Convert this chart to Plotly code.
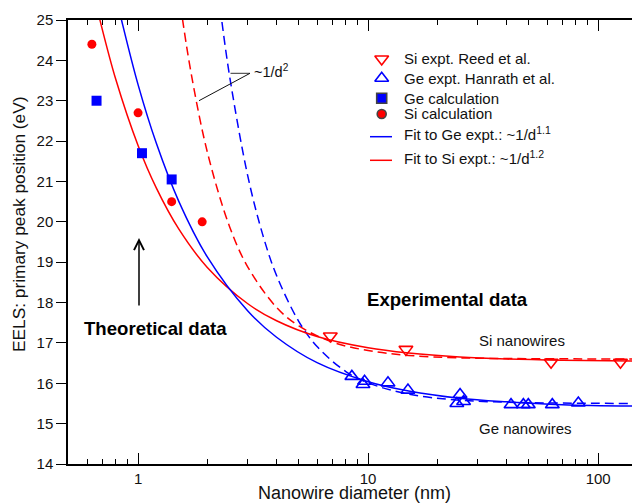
import math
import plotly.graph_objects as go

# ---------------- data ----------------
si_calc_d = [0.63, 1.0, 1.4, 1.9]
si_calc_e = [24.4, 22.7, 20.5, 20.0]

ge_calc_d = [0.66, 1.04, 1.4]
ge_calc_e = [23.0, 21.7, 21.05]

si_expt_d = [6.85, 14.6, 62.4, 125.0]
si_expt_e = [17.17, 16.84, 16.52, 16.52]

ge_expt_d = [8.5, 9.65, 9.5, 12.2, 14.9, 25.1, 24.3, 26.0, 41.8, 47.3, 49.7, 63.2, 82.0]
ge_expt_e = [16.17, 16.05, 15.97, 16.01, 15.83, 15.72, 15.50, 15.55, 15.47, 15.47, 15.47, 15.47, 15.51]

# fit curves
ge_fit_d = [0.82, 0.85, 1.0, 1.2, 1.5, 2.0, 3.0, 4.0, 6.0, 10.0, 15.0, 25.0, 40.0, 70.0, 160.0]
ge_fit_e = [25.35, 24.97, 23.40, 21.95, 20.52, 19.13, 17.79, 17.14, 16.51, 16.04, 15.81, 15.63, 15.54, 15.47, 15.43]

si_fit_d = [0.66, 0.68, 0.8, 1.0, 1.2, 1.5, 2.0, 3.0, 4.0, 6.0, 10.0, 15.0, 25.0, 40.0, 70.0, 160.0]
si_fit_e = [25.35, 25.04, 23.53, 21.89, 20.84, 19.83, 18.87, 17.97, 17.55, 17.16, 16.88, 16.75, 16.65, 16.60, 16.57, 16.55]

si_d2_d = [1.5, 1.55, 1.7, 2.0, 2.5, 3.0, 4.0, 5.0, 7.0, 10.0, 15.0, 25.0, 50.0, 160.0]
si_d2_e = [25.71, 25.13, 23.69, 21.73, 19.88, 18.88, 17.88, 17.42, 17.02, 16.81, 16.69, 16.63, 16.61, 16.60]

ge_d2_d = [2.2, 2.3, 2.5, 3.0, 3.5, 4.0, 5.0, 6.0, 8.0, 10.0, 15.0, 25.0, 50.0, 160.0]
ge_d2_e = [25.98, 25.08, 23.61, 21.13, 19.64, 18.67, 17.53, 16.91, 16.29, 16.01, 15.73, 15.58, 15.52, 15.50]

x_major = [1, 10, 100]
x_minor = [0.6, 0.7, 0.8, 0.9, 2, 3, 4, 5, 6, 7, 8, 9, 20, 30, 40, 50, 60, 70, 80, 90]
y_ticks = list(range(14, 26))

legend_labels = ["Si expt. Reed et al.", "Ge expt. Hanrath et al.", "Ge calculation",
                 "Si calculation", "Fit to Ge expt.: ~1/d<sup>1.1</sup>",
                 "Fit to Si expt.: ~1/d<sup>1.2</sup>"]

# ---------------- styling ----------------
RED = "#ff0000"
BLUE = "#0000ff"
FONT = "Liberation Sans, Arial, Helvetica, sans-serif"
OFF = 8                      # page body margin offset
W, H = 640 - OFF, 503 - OFF  # figure size
ML, MR, MT, MB = 68 - OFF, 0, 20 - OFF, 39
PW, PH = W - ML - MR, H - MT - MB


def px(x):
    # page pixel -> paper fraction
    return (x - OFF - ML) / PW


def py(y):
    return (H - MB - (y - OFF)) / PH


fig = go.Figure()

# curves
fig.add_trace(go.Scatter(x=si_d2_d, y=si_d2_e, mode="lines", line=dict(color=RED, width=1.5, dash="9px,5px", shape="spline"), showlegend=False))
fig.add_trace(go.Scatter(x=ge_d2_d, y=ge_d2_e, mode="lines", line=dict(color=BLUE, width=1.5, dash="9px,5px", shape="spline"), showlegend=False))
fig.add_trace(go.Scatter(x=si_fit_d, y=si_fit_e, mode="lines", line=dict(color=RED, width=1.5, shape="spline"), showlegend=False))
fig.add_trace(go.Scatter(x=ge_fit_d, y=ge_fit_e, mode="lines", line=dict(color=BLUE, width=1.5, shape="spline"), showlegend=False))

# markers
fig.add_trace(go.Scatter(x=si_calc_d, y=si_calc_e, mode="markers", marker=dict(symbol="circle", size=9, color=RED), showlegend=False))
fig.add_trace(go.Scatter(x=ge_calc_d, y=ge_calc_e, mode="markers", marker=dict(symbol="square", size=10, color=BLUE), showlegend=False))
fig.add_trace(go.Scatter(x=si_expt_d, y=si_expt_e, mode="markers", marker=dict(symbol="triangle-down-open", size=12, color=RED, line=dict(width=1.6)), showlegend=False))
fig.add_trace(go.Scatter(x=ge_expt_d, y=ge_expt_e, mode="markers", marker=dict(symbol="triangle-up-open", size=12, color=BLUE, line=dict(width=1.6)), showlegend=False))

# manual legend (overlay axes in paper-like [0,1] space)
leg_rows = [59, 78.3, 98.3, 114, 136.7, 160.3]
leg_mx = 381.7
leg_syms = [("triangle-down-open", RED, 12), ("triangle-up-open", BLUE, 12), ("square", BLUE, 10), ("circle", RED, 9)]
for (sym, col, sz), ry in zip(leg_syms, leg_rows[:4]):
    fig.add_trace(go.Scatter(x=[px(leg_mx)], y=[py(ry)], mode="markers", xaxis="x2", yaxis="y2",
                             marker=dict(symbol=sym, size=sz, color=col, line=dict(width=1.6)), showlegend=False))
shapes = []
for col, ry in zip([BLUE, RED], leg_rows[4:]):
    shapes.append(dict(type="line", xref="paper", yref="paper", x0=px(370), x1=px(392), y0=py(ry), y1=py(ry),
                       line=dict(color=col, width=1.5)))

annotations = []
for lab, ry in zip(legend_labels, leg_rows):
    yy = ry - (3 if "<sup>" in lab else 0)
    annotations.append(dict(text=lab, x=px(402), y=py(yy), xref="paper", yref="paper", xanchor="left",
                            yanchor="middle", showarrow=False, font=dict(size=15, color="#111", family=FONT)))

# ~1/d^2 leader lines
shapes.append(dict(type="line", xref="paper", yref="paper", x0=px(230.5), x1=px(250), y0=py(73.3), y1=py(73.3), line=dict(color="#333", width=1)))
shapes.append(dict(type="line", xref="paper", yref="paper", x0=px(250), x1=px(199), y0=py(73.3), y1=py(100.7), line=dict(color="#111", width=1)))
annotations.append(dict(text="~1/d<sup>2</sup>", x=px(252), y=py(71), xref="paper", yref="paper", xanchor="left",
                        yanchor="middle", showarrow=False, font=dict(size=14.5, color="#111", family=FONT)))

# arrow
annotations.append(dict(text="", x=px(139), y=py(238), xref="paper", yref="paper", showarrow=True,
                        ax=0, ay=69, arrowhead=5, arrowsize=1.3, arrowwidth=1.5, arrowcolor="#000"))

# text labels
annotations.append(dict(text="<b>Theoretical data</b>", x=px(155.5), y=py(328), xref="paper", yref="paper",
                        xanchor="center", yanchor="middle", showarrow=False, font=dict(size=18.6, color="#000", family=FONT)))
annotations.append(dict(text="<b>Experimental data</b>", x=px(447.5), y=py(299), xref="paper", yref="paper",
                        xanchor="center", yanchor="middle", showarrow=False, font=dict(size=18.6, color="#000", family=FONT)))
annotations.append(dict(text="Si nanowires", x=px(522), y=py(340), xref="paper", yref="paper",
                        xanchor="center", yanchor="middle", showarrow=False, font=dict(size=15, color="#111", family=FONT)))
annotations.append(dict(text="Ge nanowires", x=px(525), y=py(428.5), xref="paper", yref="paper",
                        xanchor="center", yanchor="middle", showarrow=False, font=dict(size=15, color="#111", family=FONT)))

# axis titles
annotations.append(dict(text="EELS: primary peak position (eV)", x=px(19), y=py(224), xref="paper", yref="paper",
                        xanchor="center", yanchor="middle", textangle=-90, showarrow=False,
                        font=dict(size=17.3, color="#111", family=FONT)))
annotations.append(dict(text="Nanowire diameter (nm)", x=px(354), y=py(493), xref="paper", yref="paper",
                        xanchor="center", yanchor="middle", showarrow=False,
                        font=dict(size=18, color="#111", family=FONT)))

fig.update_layout(
    width=W, height=H,
    margin=dict(l=ML, r=MR, t=MT, b=MB, pad=0),
    paper_bgcolor="white", plot_bgcolor="white",
    font=dict(family=FONT, size=15, color="#111"),
    showlegend=False,
    shapes=shapes,
    annotations=annotations,
    xaxis=dict(type="log", range=[math.log10(0.496), math.log10(152)],
               tickmode="array", tickvals=x_major, ticktext=[str(v) for v in x_major],
               ticks="inside", ticklen=11, tickwidth=1.2, tickcolor="#000",
               minor=dict(tickmode="array", tickvals=x_minor, ticks="inside", ticklen=5.5, tickwidth=1.2, tickcolor="#000", showgrid=False),
               showline=True, linecolor="#000", linewidth=1.5, mirror="ticks",
               showgrid=False, zeroline=False, tickfont=dict(size=15, color="#111")),
    yaxis=dict(range=[14, 25], tickmode="array", tickvals=y_ticks,
               ticks="outside", ticklen=10, tickwidth=1.2, tickcolor="#000",
               showline=True, linecolor="#000", linewidth=1.5, mirror=False,
               showgrid=False, zeroline=False, tickfont=dict(size=15, color="#111")),
    xaxis2=dict(domain=[0, 1], range=[0, 1], overlaying="x", anchor="y2", visible=False, fixedrange=True),
    yaxis2=dict(domain=[0, 1], range=[0, 1], overlaying="y", anchor="x2", visible=False, fixedrange=True),
)

fig.write_html("out.html")
